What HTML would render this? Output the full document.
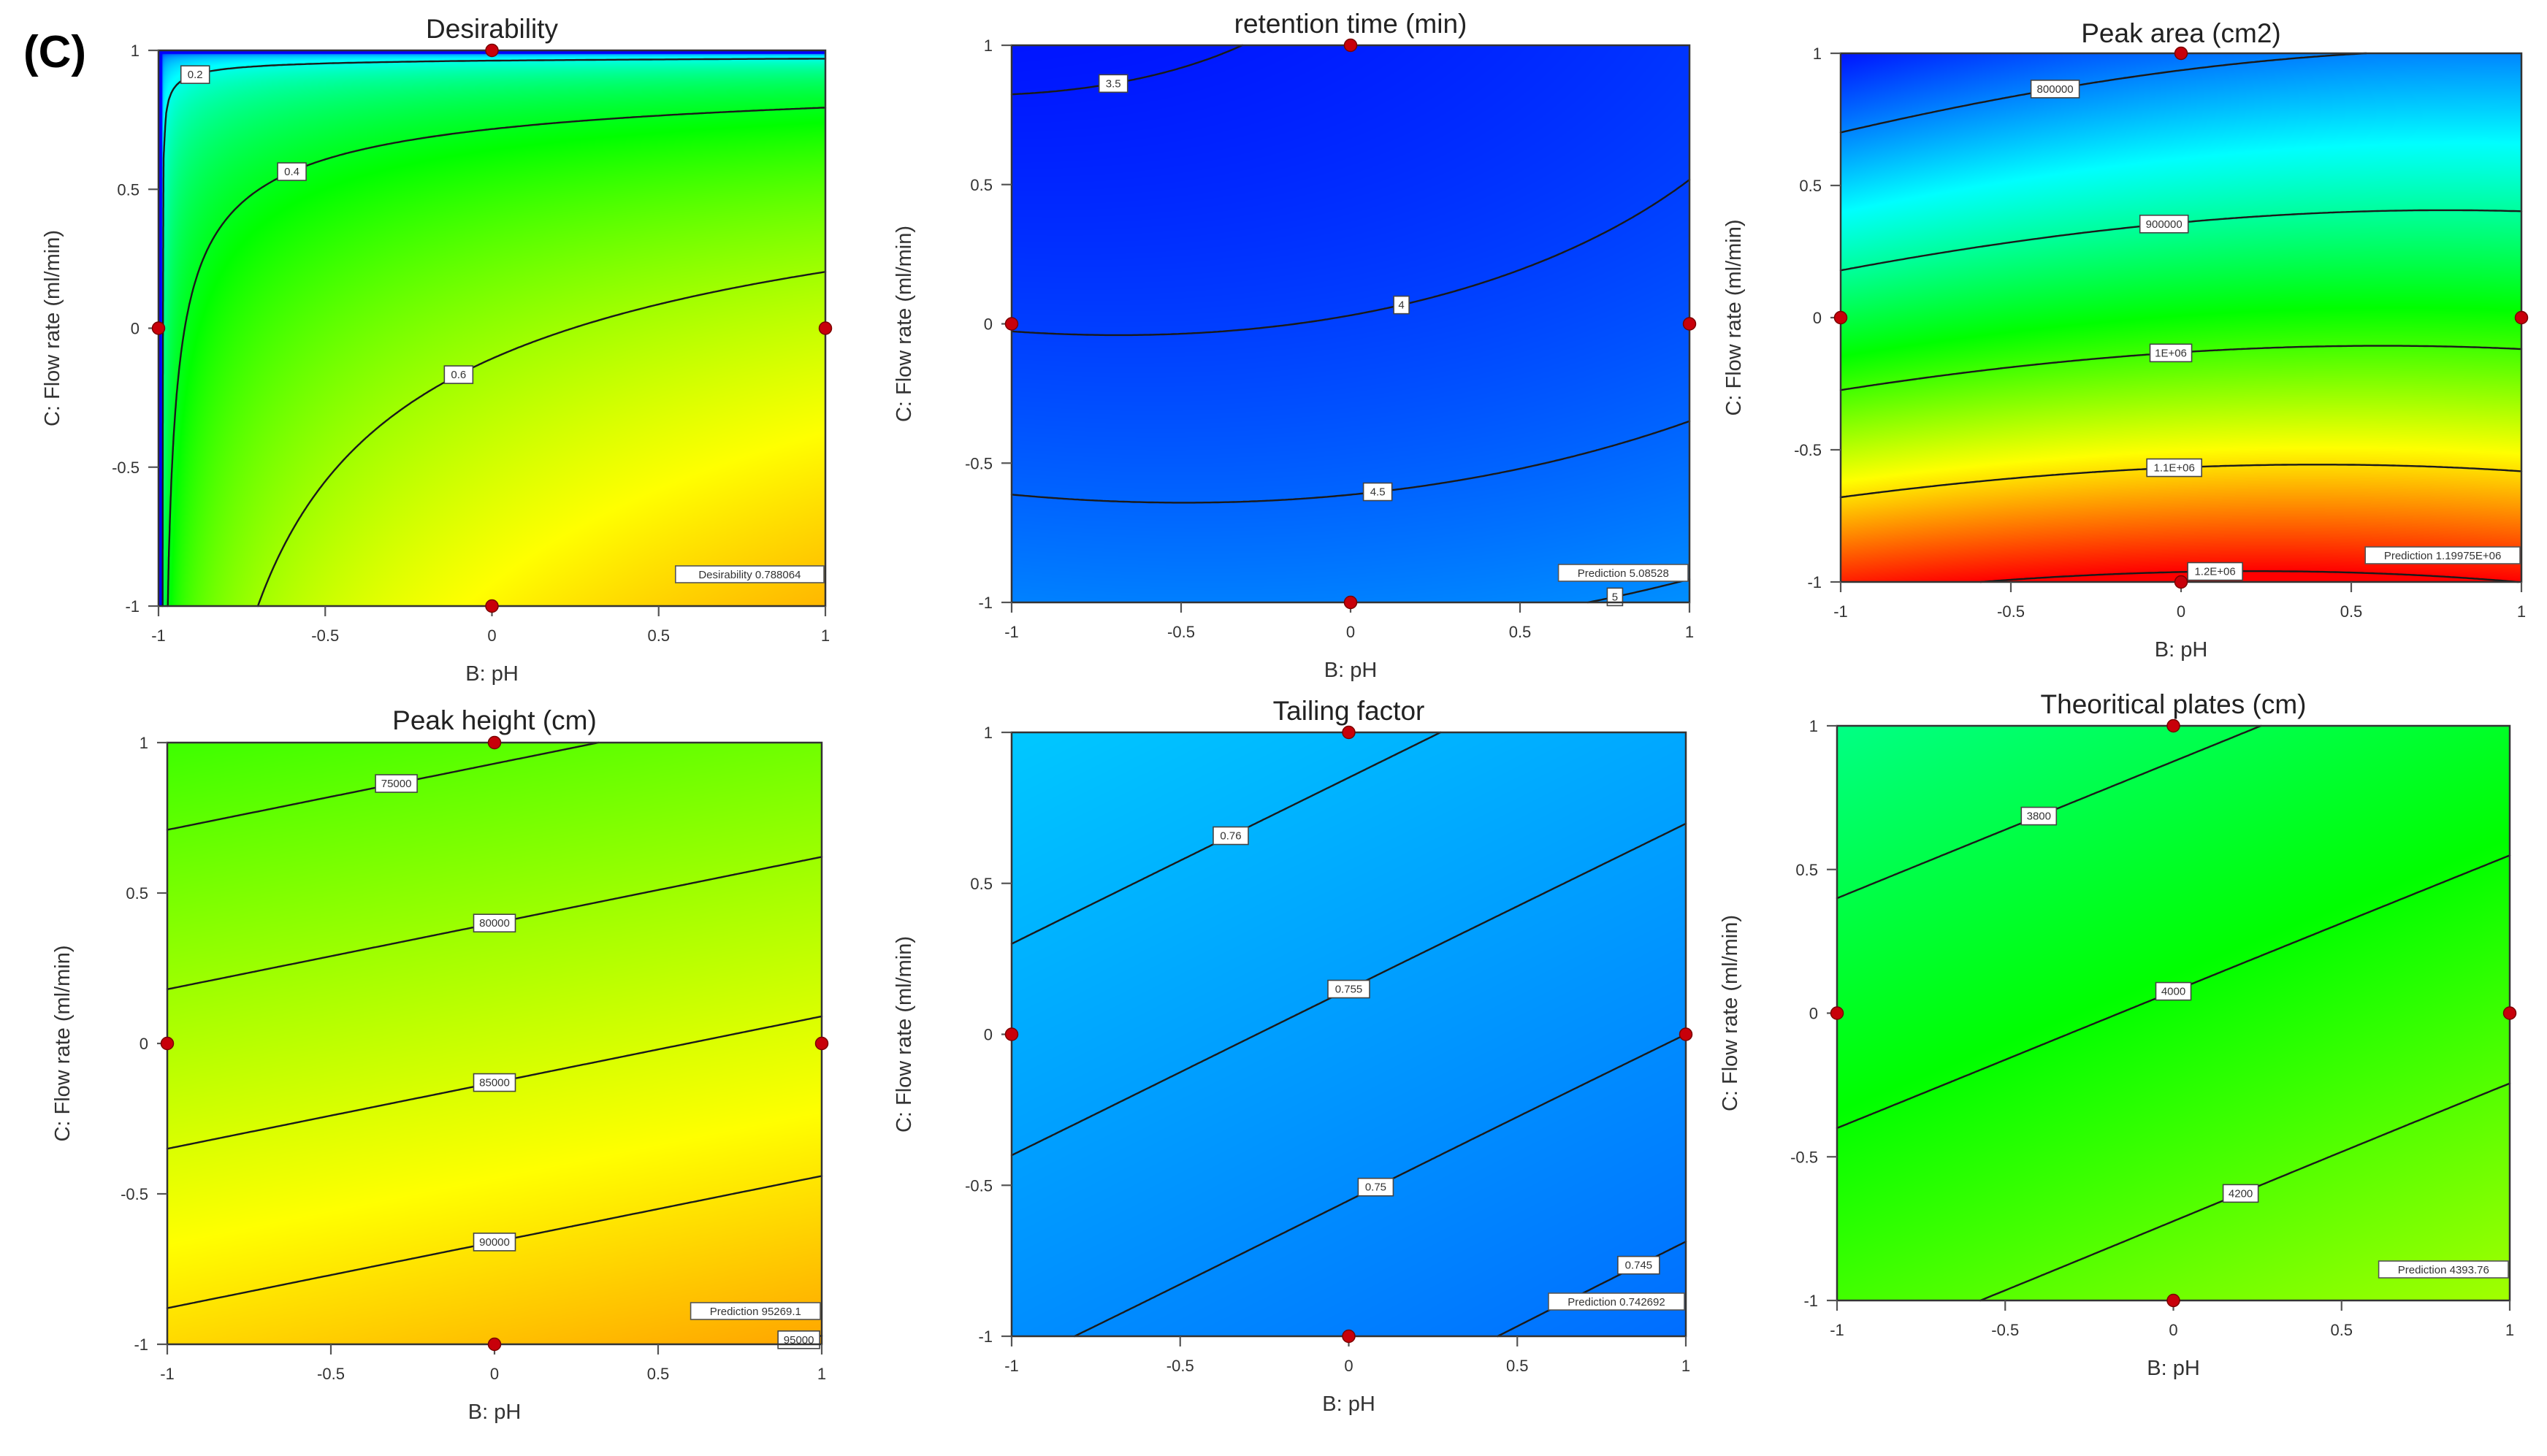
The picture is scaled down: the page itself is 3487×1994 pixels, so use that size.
<!DOCTYPE html>
<html><head><meta charset="utf-8">
<style>
html,body{margin:0;padding:0;background:#fff;}
#wrap{position:relative;width:3487px;height:1994px;overflow:hidden;background:#fff;}
canvas{position:absolute;}
svg{position:absolute;left:0;top:0;}
</style></head>
<body>
<div id="wrap">
<svg id="svg" width="3487" height="1994">
<text x="32" y="92" font-family="Liberation Sans, sans-serif" font-weight="bold" font-size="62" fill="#000">(C)</text>
</svg>
</div>
<script>
// ---------- shared data ----------
const tickValues = [-1, -0.5, 0, 0.5, 1];
const tickLabels = ['-1', '-0.5', '0', '0.5', '1'];
const designX = [0, -1, 1, 0];
const designY = [1, 0, 0, -1];

// Desirability model parameters: [scale c, exponent pH a, exponent flow b, edge cutoff]
const desirabilityParams = [0.585, 0.139, 0.29, 0.012];
const desirabilityLevels = [0.2, 0.4, 0.6];
const desirabilityLabels = ['0.2', '0.4', '0.6'];
const desirabilityLabelX = [-0.89, -0.6, -0.1];

// 3x3 value grids: rows y = 1, 0, -1 ; cols x = -1, 0, 1
const retentionGrid = [[3.43, 3.56, 3.86], [3.98, 4.02, 4.26], [4.90, 4.88, 5.085]];
const retentionLevels = [3.5, 4, 4.5, 5];
const retentionLabels = ['3.5', '4', '4.5', '5'];
const retentionLabelX = [-0.7, 0.15, 0.08, 0.78];

const areaGrid = [[750000, 790000, 802000], [938000, 972000, 976000], [1186000, 1210000, 1199750]];
const areaLevels = [800000, 900000, 1000000, 1100000, 1200000];
const areaLabels = ['800000', '900000', '1E+06', '1.1E+06', '1.2E+06'];
const areaLabelX = [-0.37, -0.05, -0.03, -0.02, 0.1];

const heightGrid = [[72265, 74340, 76415], [81699, 83774, 85849], [91133, 93208, 95269]];
const heightLevels = [75000, 80000, 85000, 90000, 95000];
const heightLabels = ['75000', '80000', '85000', '90000', '95000'];
const heightLabelX = [-0.3, 0, 0, 0, 0.93];

const tailingGrid = [[0.76500, 0.76107, 0.75714], [0.75786, 0.75393, 0.75000], [0.75072, 0.74679, 0.742692]];
const tailingLevels = [0.745, 0.75, 0.755, 0.76];
const tailingLabels = ['0.745', '0.75', '0.755', '0.76'];
const tailingLabelX = [0.86, 0.08, 0, -0.35];

const platesGrid = [[3650, 3769, 3888], [3900, 4019, 4138], [4150, 4269, 4393.76]];
const platesLevels = [3800, 4000, 4200];
const platesLabels = ['3800', '4000', '4200'];
const platesLabelX = [-0.4, 0, 0.2];

const predictionTexts = ['Desirability  0.788064', 'Prediction  5.08528', 'Prediction  1.19975E+06',
  'Prediction  95269.1', 'Prediction  0.742692', 'Prediction  4393.76'];

// ---------- helpers ----------
function lag(t) { return [t * (t - 1) / 2, 1 - t * t, t * (t + 1) / 2]; }
function gridFn(g) {
  return function (x, y) {
    const lx = lag(x), ly = lag(y);
    const rowsByY = [g[2], g[1], g[0]];
    let s = 0;
    for (let j = 0; j < 3; j++) for (let i = 0; i < 3; i++) s += ly[j] * lx[i] * rowsByY[j][i];
    return s;
  };
}
function desirFn(x, y) {
  const c = desirabilityParams[0], a = desirabilityParams[1], b = desirabilityParams[2], e = desirabilityParams[3];
  const u = Math.max(0, x + 1 - e), v = Math.max(0, 1 - y - e);
  return c * Math.pow(u, a) * Math.pow(v, b);
}
const stops = [[0, 0, 0, 255], [0.25, 0, 255, 255], [0.5, 0, 255, 0], [0.75, 255, 255, 0], [1, 255, 0, 0]];
function cmap(t) {
  t = Math.max(0, Math.min(1, t));
  for (let k = 0; k < stops.length - 1; k++) {
    const a = stops[k], b = stops[k + 1];
    if (t <= b[0]) {
      const f = (t - a[0]) / (b[0] - a[0]);
      return [a[1] + (b[1] - a[1]) * f, a[2] + (b[2] - a[2]) * f, a[3] + (b[3] - a[3]) * f];
    }
  }
  return [255, 0, 0];
}

const panels = [
  {key: 'desirability', title: 'Desirability', x0: 217, y0: 69, x1: 1130, y1: 830, titleY: 52, ylabX: 71,
   fn: desirFn, levels: desirabilityLevels, labels: desirabilityLabels, labelX: desirabilityLabelX, vmin: 0, vmax: 1, gamma: 0.82, predOff: 32, pred: 0},
  {key: 'retention-time', title: 'retention time (min)', x0: 1385, y0: 62, x1: 2313, y1: 825, titleY: 45, ylabX: 1237,
   fn: gridFn(retentionGrid), levels: retentionLevels, labels: retentionLabels, labelX: retentionLabelX, vmin: 3.15, vmax: 16.9, gamma: 1, predOff: 29, pred: 1},
  {key: 'peak-area', title: 'Peak area (cm2)', x0: 2520, y0: 73, x1: 3452, y1: 797, titleY: 58, ylabX: 2373,
   fn: gridFn(areaGrid), levels: areaLevels, labels: areaLabels, labelX: areaLabelX, vmin: 741000, vmax: 1200000, gamma: 1, predOff: 25, pred: 2},
  {key: 'peak-height', title: 'Peak height (cm)', x0: 229, y0: 1017, x1: 1125, y1: 1841, titleY: 999, ylabX: 85,
   fn: gridFn(heightGrid), levels: heightLevels, labels: heightLabels, labelX: heightLabelX, vmin: 25900, vmax: 108700, gamma: 1, predOff: 34, pred: 3},
  {key: 'tailing-factor', title: 'Tailing factor', x0: 1385, y0: 1003, x1: 2308, y1: 1830, titleY: 986, ylabX: 1237,
   fn: gridFn(tailingGrid), levels: tailingLevels, labels: tailingLabels, labelX: tailingLabelX, vmin: 0.7158, vmax: 0.967, gamma: 1, predOff: 36, pred: 4},
  {key: 'theoretical-plates', title: 'Theoritical plates (cm)', x0: 2515, y0: 994, x1: 3436, y1: 1781, titleY: 977, ylabX: 2368,
   fn: gridFn(platesGrid), levels: platesLevels, labels: platesLabels, labelX: platesLabelX, vmin: 2699, vmax: 5270, gamma: 1, predOff: 31, pred: 5}
];

const NS = 'http://www.w3.org/2000/svg';
const svg = document.getElementById('svg');
const wrap = document.getElementById('wrap');
function mk(tag, attrs, parent) {
  const el = document.createElementNS(NS, tag);
  for (const k in attrs) el.setAttribute(k, attrs[k]);
  (parent || svg).appendChild(el);
  return el;
}
const FONT = 'Liberation Sans, sans-serif';

panels.forEach(function (p) {
  const W = p.x1 - p.x0, H = p.y1 - p.y0;
  const sx = x => p.x0 + (x + 1) / 2 * W;
  const sy = y => p.y1 - (y + 1) / 2 * H;

  const cv = document.createElement('canvas');
  cv.width = W; cv.height = H;
  cv.style.left = p.x0 + 'px'; cv.style.top = p.y0 + 'px';
  
  
  wrap.insertBefore(cv, svg);
  const ctx = cv.getContext('2d');
  const img = ctx.createImageData(W, H);
  for (let py = 0; py < H; py++) {
    const y = 1 - (py + 0.5) / H * 2;
    for (let px = 0; px < W; px++) {
      const x = (px + 0.5) / W * 2 - 1;
      let t = (p.fn(x, y) - p.vmin) / (p.vmax - p.vmin);
      t = Math.pow(Math.max(0, t), p.gamma);
      const c = cmap(t);
      const o = (py * W + px) * 4;
      img.data[o] = c[0]; img.data[o + 1] = c[1]; img.data[o + 2] = c[2]; img.data[o + 3] = 255;
    }
  }
  ctx.putImageData(img, 0, 0);

  const g = mk('g', {});
  
  

  const N = 260;
  const vals = [];
  for (let j = 0; j <= N; j++) {
    const row = [];
    for (let i = 0; i <= N; i++) row.push(p.fn(i / N * 2 - 1, 1 - j / N * 2));
    vals.push(row);
  }
  p.levels.forEach(function (lv, li) {
    let d = '';
    for (let j = 0; j < N; j++) for (let i = 0; i < N; i++) {
      const a = vals[j][i], b = vals[j][i + 1], c = vals[j + 1][i + 1], e = vals[j + 1][i];
      const pts = [];
      const cross = function (v1, v2, x1, y1, x2, y2) {
        if ((v1 < lv) !== (v2 < lv)) {
          const t = (lv - v1) / (v2 - v1);
          pts.push([x1 + (x2 - x1) * t, y1 + (y2 - y1) * t]);
        }
      };
      cross(a, b, i, j, i + 1, j);
      cross(b, c, i + 1, j, i + 1, j + 1);
      cross(c, e, i + 1, j + 1, i, j + 1);
      cross(e, a, i, j + 1, i, j);
      for (let k = 0; k + 1 < pts.length; k += 2) {
        const X1 = p.x0 + pts[k][0] / N * W, Y1 = p.y0 + pts[k][1] / N * H;
        const X2 = p.x0 + pts[k + 1][0] / N * W, Y2 = p.y0 + pts[k + 1][1] / N * H;
        d += 'M' + X1.toFixed(1) + ' ' + Y1.toFixed(1) + 'L' + X2.toFixed(1) + ' ' + Y2.toFixed(1);
      }
    }
    const path = mk('path', {d: d, stroke: '#1a1a1a', 'stroke-width': 2.4, fill: 'none', 'stroke-linecap': 'round'}, g);
    
    
  });

  // prediction box (drawn before labels so labels stay on top)
  const ptxt = predictionTexts[p.pred];
  const pw = ptxt.length * 8.6 + 14;
  const pg = mk('g', {}, g);
  
  
  mk('rect', {x: p.x1 - pw - 2, y: p.y1 - p.predOff - 23, width: pw, height: 23, fill: '#fff', stroke: '#555', 'stroke-width': 1.6}, pg);
  const pt = mk('text', {x: p.x1 - pw / 2 - 2, y: p.y1 - p.predOff - 6, 'text-anchor': 'middle', 'font-family': FONT, 'font-size': 15, fill: '#333', 'xml:space': 'preserve'}, pg);
  pt.textContent = ptxt;

  p.levels.forEach(function (lv, li) {
    const x = p.labelX[li];
    let lo = -1, hi = 1;
    const flo = p.fn(x, lo) - lv, fhi = p.fn(x, hi) - lv;
    if (flo * fhi > 0) return;
    for (let k = 0; k < 50; k++) {
      const m = (lo + hi) / 2, fm = p.fn(x, m) - lv;
      if ((fm > 0) === (flo > 0)) lo = m; else hi = m;
    }
    const y = Math.max(-0.985, Math.min(0.985, (lo + hi) / 2));
    const cx = sx(x), cy = sy(y);
    const txt = p.labels[li];
    const w = txt.length * 9 + 12;
    const lg = mk('g', {}, g);
    
    
    mk('rect', {x: cx - w / 2, y: cy - 12, width: w, height: 24, fill: '#fff', stroke: '#444', 'stroke-width': 1.6}, lg);
    const t = mk('text', {x: cx, y: cy + 5, 'text-anchor': 'middle', 'font-family': FONT, 'font-size': 15, fill: '#333'}, lg);
    t.textContent = txt;
  });

  const br = mk('rect', {x: p.x0, y: p.y0, width: W, height: H, fill: 'none', stroke: '#333', 'stroke-width': 2.5}, g);
  
  

  tickValues.forEach(function (v, k) {
    mk('line', {x1: sx(v), y1: p.y1, x2: sx(v), y2: p.y1 + 14, stroke: '#555', 'stroke-width': 2.2}, g);
    const xt = mk('text', {x: sx(v), y: p.y1 + 48, 'text-anchor': 'middle', 'font-family': FONT, 'font-size': 22, fill: '#333'}, g);
    xt.textContent = tickLabels[k];
    
    
    mk('line', {x1: p.x0 - 14, y1: sy(v), x2: p.x0, y2: sy(v), stroke: '#555', 'stroke-width': 2.2}, g);
    const yt = mk('text', {x: p.x0 - 26, y: sy(v) + 8, 'text-anchor': 'end', 'font-family': FONT, 'font-size': 22, fill: '#333'}, g);
    yt.textContent = tickLabels[k];
    
    
  });

  designX.forEach(function (dx, k) {
    const c = mk('circle', {cx: sx(dx), cy: sy(designY[k]), r: 8.5, fill: '#c8000a', stroke: '#7a0000', 'stroke-width': 1.5}, g);
    
    
  });

  const tt = mk('text', {x: (p.x0 + p.x1) / 2, y: p.titleY, 'text-anchor': 'middle', 'font-family': FONT, 'font-size': 37, fill: '#222'}, g);
  tt.textContent = p.title;
  
  
  const xa = mk('text', {x: (p.x0 + p.x1) / 2, y: p.y1 + 102, 'text-anchor': 'middle', 'font-family': FONT, 'font-size': 29, fill: '#333'}, g);
  xa.textContent = 'B: pH';
  
  
  const cyM = (p.y0 + p.y1) / 2;
  const ya = mk('text', {x: p.ylabX, y: cyM, 'text-anchor': 'middle', 'font-family': FONT, 'font-size': 29, fill: '#333',
    transform: 'rotate(-90 ' + p.ylabX + ' ' + cyM + ')', dy: 10}, g);
  ya.textContent = 'C: Flow rate (ml/min)';
  
  
});
</script>
</body></html>
